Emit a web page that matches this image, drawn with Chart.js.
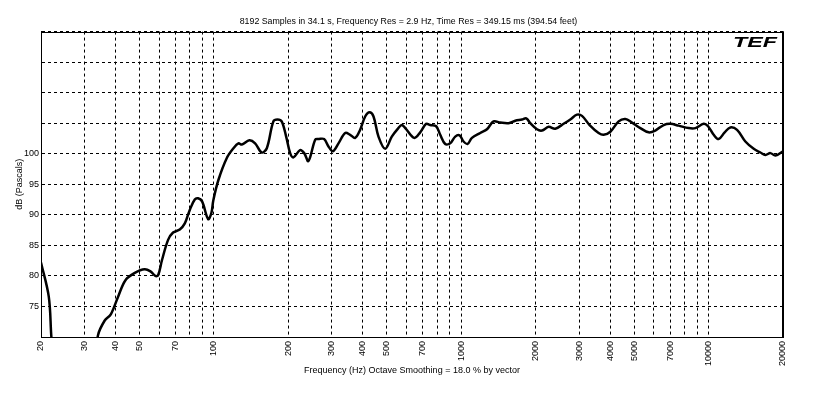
<!DOCTYPE html>
<html>
<head>
<meta charset="utf-8">
<script src="https://cdn.jsdelivr.net/npm/chart.js@4.4.1/dist/chart.umd.min.js"></script>
<style>
html, body { margin: 0; padding: 0; background: #fff; }
</style>
</head>
<body>
<canvas id="tefChart" width="817" height="397"></canvas>
<script>
// frequency response (Hz / dB)
var freqs = [20, 21.5, 22, 22.4, 28,
  33.6, 34, 36.2, 38.3, 41, 43.9, 47.9, 52.5, 55.6, 58, 59.5, 61.7, 65.3, 68.4, 72.8,
  76.3, 79.9, 83.7, 86.3, 89.6, 94.8, 97.7, 99.5, 104.3, 112.8, 120, 125.7, 129.7, 139.2,
  146.8, 156, 163.7, 174, 180.7, 188, 196, 203.4, 209.8, 223, 231.8, 241.2, 256.8, 264.8,
  279, 290.6, 302.8, 319, 339.6, 355.6, 372.6, 390, 409, 425.8, 442, 463, 492.8, 524,
  557, 575, 594, 645.6, 682.8, 721.8, 749, 792, 822.6, 861.8, 902.8, 946, 984.6, 1022,
  1061, 1105, 1194, 1271, 1351, 1439, 1554, 1654, 1760, 1832, 1902, 2024, 2122, 2256,
  2400, 2594, 2761, 2938, 3078, 3304, 3594, 3765, 4008, 4330, 4608, 4904, 5298, 5725,
  6092, 6583, 7008, 7568, 8310, 8844, 9558, 9954, 10490, 10990, 11620, 12250, 13040,
  14090, 15230, 16210, 16980, 17790, 18640, 20000];
var levels = [82.2, 76.6, 70.3, 66, null,
  67, 70.3, 72.7, 73.7, 76.6, 79.3, 80.5, 81.1, 80.7, 80.0, 80.1, 82.6, 85.9, 87.1, 87.6,
  88.6, 90.8, 92.5, 92.7, 92.2, 89.3, 90.3, 92.4, 95.7, 99.3, 100.9, 101.7, 101.5, 102.2,
  101.7, 100.2, 100.9, 105.3, 105.6, 105.3, 102.8, 100.1, 99.4, 100.6, 100.1, 98.8, 102.3, 102.4,
  102.4, 101.2, 100.4, 101.7, 103.4, 103.1, 102.6, 103.9, 106.1, 106.8, 106.1, 102.8, 100.8, 102.8,
  104.2, 104.7, 104.2, 102.6, 103.5, 104.9, 104.7, 104.5, 103.1, 101.6, 101.7, 102.8, 103.0, 102.0,
  101.6, 102.6, 103.4, 104.0, 105.3, 105.1, 105.0, 105.4, 105.6, 105.8, 105.0, 104.0, 103.8, 104.4,
  104.1, 104.9, 105.6, 106.4, 106.2, 104.7, 103.4, 103.1, 103.6, 105.3, 105.7, 105.1, 104.2, 103.5,
  103.8, 104.7, 104.9, 104.6, 104.2, 104.2, 104.9, 104.5, 103.1, 102.4, 103.5, 104.3, 103.9,
  102.0, 100.8, 100.2, 99.8, 100.1, 99.7, 100.4];

var gridFreqs = [20, 30, 40, 50, 60, 70, 80, 90, 100, 200, 300, 400, 500, 600, 700, 800, 900,
  1000, 2000, 3000, 4000, 5000, 6000, 7000, 8000, 9000, 10000, 20000];
var labeledFreqs = [20, 30, 40, 50, 70, 100, 200, 300, 400, 500, 700, 1000, 2000, 3000, 4000,
  5000, 7000, 10000, 20000];
var levelTicks = [75, 80, 85, 90, 95, 100];

var fontFamily = '"Liberation Sans", Arial, sans-serif';

var points = [];
for (var i = 0; i < freqs.length; i++) {
	points.push({x: freqs[i], y: levels[i]});
}

// solid frame round the plot and the TEF mark
var framePlugin = {
	id: 'frame',
	afterDraw: function(chart) {
		var a = chart.chartArea;
		var ctx = chart.ctx;
		ctx.save();
		ctx.strokeStyle = '#000';
		ctx.lineWidth = 1;
		ctx.strokeRect(Math.round(a.left) + 0.5, Math.round(a.top) + 0.5,
			Math.round(a.right - a.left) - 1, Math.round(a.bottom - a.top));
		ctx.lineWidth = 2;
		ctx.beginPath();
		ctx.moveTo(Math.round(a.right), a.top);
		ctx.lineTo(Math.round(a.right), a.bottom);
		ctx.stroke();
		ctx.translate(a.right - 50, a.top + 15);
		ctx.scale(1.55, 1);
		ctx.fillStyle = '#000';
		ctx.font = 'italic bold 15px ' + fontFamily;
		ctx.textBaseline = 'alphabetic';
		ctx.fillText('TEF', 0, 0);
		ctx.restore();
	}
};

var ctx = document.getElementById('tefChart');

var tefChart = new Chart(ctx, {
	type: 'line',
	data: {
		datasets: [{
			data: points,
			borderColor: '#000',
			borderWidth: 2.5,
			pointRadius: 0,
			fill: false,
			spanGaps: false,
			tension: 0.35
		}]
	},
	options: {
		responsive: false,
		animation: false,
		events: [],
		layout: { padding: 0 },
		plugins: {
			legend: { display: false },
			tooltip: { enabled: false },
			title: {
				display: true,
				text: '8192 Samples in 34.1 s, Frequency Res = 2.9 Hz, Time Res = 349.15 ms (394.54 feet)',
				color: '#000',
				font: { family: fontFamily, size: 8.8, weight: 'normal' },
				padding: { top: 16, bottom: 5 }
			}
		},
		scales: {
			x: {
				type: 'logarithmic',
				min: 20,
				max: 20000,
				afterBuildTicks: function(scale) {
					scale.ticks = gridFreqs.map(function(v) { return {value: v}; });
				},
				afterFit: function(scale) { scale.height = 60; },
				grid: { color: '#000', lineWidth: 1, drawTicks: false },
				border: { display: true, color: '#000', width: 1, dash: [3, 3] },
				ticks: {
					autoSkip: false,
					minRotation: 90,
					maxRotation: 90,
					padding: 4,
					color: '#000',
					font: { family: fontFamily, size: 9 },
					callback: function(value) {
						return labeledFreqs.indexOf(value) >= 0 ? String(value) : '';
					}
				},
				title: {
					display: true,
					text: 'Frequency (Hz) Octave Smoothing = 18.0 % by vector',
					color: '#000',
					font: { family: fontFamily, size: 9 },
					padding: { top: 0, bottom: 21 }
				}
			},
			y: {
				type: 'linear',
				min: 70,
				max: 120,
				afterFit: function(scale) { scale.width = 41; },
				grid: { color: '#000', lineWidth: 1, drawTicks: false },
				border: { display: true, color: '#000', width: 1, dash: [3, 3] },
				ticks: {
					stepSize: 5,
					padding: 2,
					color: '#000',
					font: { family: fontFamily, size: 9 },
					callback: function(value) {
						return levelTicks.indexOf(value) >= 0 ? String(value) : '';
					}
				},
				title: {
					display: true,
					text: 'dB (Pascals)',
					color: '#000',
					font: { family: fontFamily, size: 9 },
					padding: { top: 14, bottom: 0 }
				}
			},
			yRight: {
				position: 'right',
				display: true,
				afterFit: function(scale) { scale.width = 34; },
				grid: { display: false },
				border: { display: false },
				ticks: { display: false }
			}
		}
	},
	plugins: [framePlugin]
});
</script>
</body>
</html>
